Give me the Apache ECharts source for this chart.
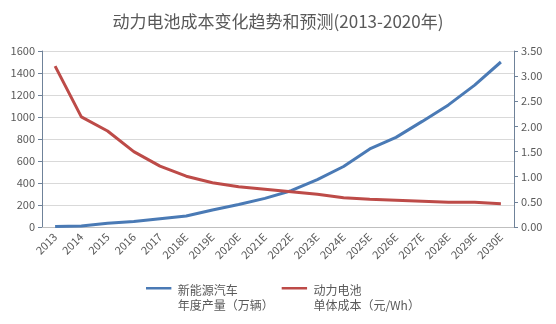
<!DOCTYPE html>
<html><head><meta charset="utf-8">
<script src="https://cdn.jsdelivr.net/npm/echarts@6/dist/echarts.min.js"></script>
<style>html,body{margin:0;padding:0;background:#fff}#c{width:556px;height:324px}</style>
</head><body><div id="c"></div>
<script>
const categories = ['2013','2014','2015','2016','2017','2018E','2019E','2020E','2021E','2022E','2023E','2024E','2025E','2026E','2027E','2028E','2029E','2030E'];
const evOutput = [5,10,35,50,75,100,155,205,260,330,430,550,710,815,960,1110,1290,1500];
const cellCost = [3.20,2.19,1.91,1.50,1.21,1.01,0.88,0.80,0.75,0.70,0.65,0.58,0.55,0.53,0.51,0.49,0.49,0.46];
const leftTicks = {min:0,max:1600,interval:200};
const rightTicks = {min:0,max:3.5,interval:0.5};
const seriesNames = ['新能源汽车\n年度产量（万辆）','动力电池\n单体成本（元/Wh）'];
const titleText = '动力电池成本变化趋势和预测(2013-2020年)';

const font = '"Noto Sans CJK SC", "Microsoft YaHei", sans-serif';
const iconPath = 'path://M0,0 L30,0 L30,3 L0,3 Z M0,26 L0.01,26 L0,26.01 Z';
const chart = echarts.init(document.getElementById('c'));
chart.setOption({
  animation:false,
  title:{text:titleText,left:'center',top:8,textStyle:{fontFamily:font,fontWeight:'normal',fontSize:17,color:'#595959'}},
  grid:{left:42,right:42,top:51,bottom:97},
  legend:{
    bottom:6,left:141,itemGap:8,itemWidth:28,itemHeight:22,icon:iconPath,
    textStyle:{fontFamily:font,fontSize:12,color:'#595959',lineHeight:15},
    data:seriesNames
  },
  xAxis:{type:'category',data:categories,boundaryGap:true,
    axisLine:{lineStyle:{color:'#bfbfbf'}},axisTick:{show:false},
    axisLabel:{rotate:45,fontFamily:font,fontSize:11,color:'#595959',margin:8,interval:0}},
  yAxis:[
    {type:'value',min:leftTicks.min,max:leftTicks.max,interval:leftTicks.interval,
     axisLine:{show:true,lineStyle:{color:'#6f8299'}},axisTick:{show:true,length:4,lineStyle:{color:'#6f8299'}},
     splitLine:{lineStyle:{color:'#d9d9d9'}},
     axisLabel:{fontFamily:font,fontSize:11,color:'#595959',margin:7,formatter:v=>String(v)}},
    {type:'value',min:rightTicks.min,max:rightTicks.max,interval:rightTicks.interval,
     axisLine:{show:true,lineStyle:{color:'#6f8299'}},axisTick:{show:true,length:4,lineStyle:{color:'#6f8299'}},
     splitLine:{show:false},
     axisLabel:{fontFamily:font,fontSize:11,color:'#595959',margin:7,formatter:v=>v.toFixed(2)}}
  ],
  series:[
    {name:seriesNames[0],type:'line',data:evOutput,yAxisIndex:0,showSymbol:false,
     lineStyle:{width:3,color:'#4a7ab5'},itemStyle:{color:'#4a7ab5'}},
    {name:seriesNames[1],type:'line',data:cellCost,yAxisIndex:1,showSymbol:false,
     lineStyle:{width:3,color:'#bd4b48'},itemStyle:{color:'#bd4b48'}}
  ]
});
</script></body></html>
